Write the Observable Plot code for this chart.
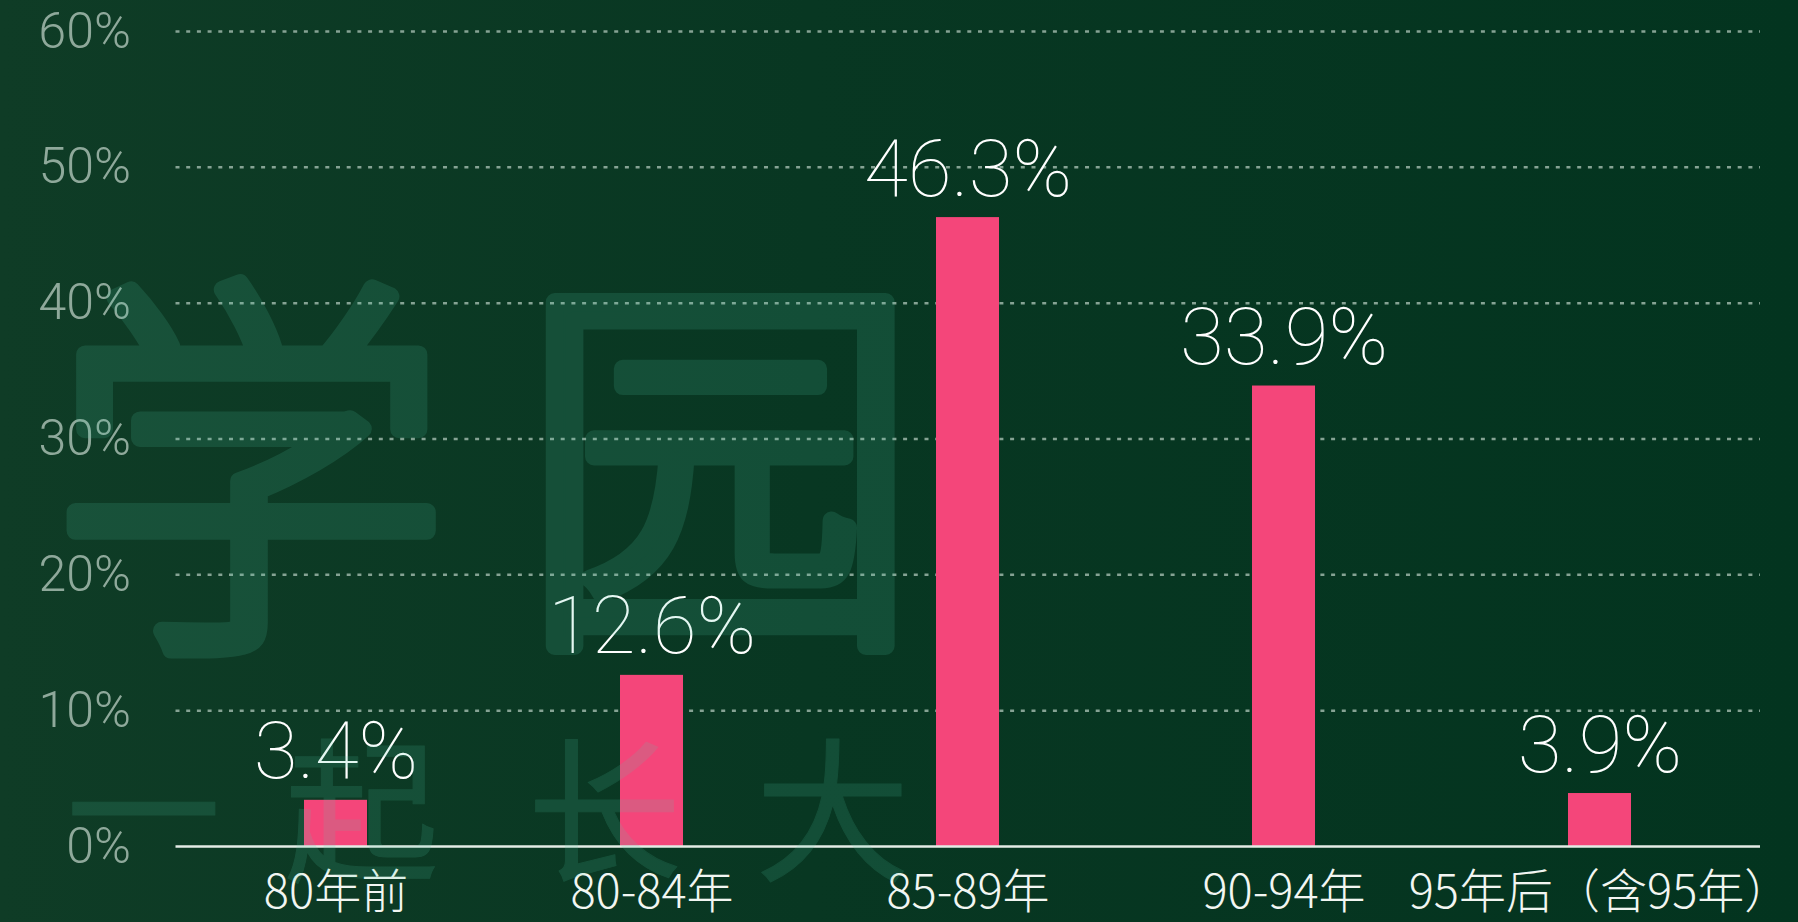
<!DOCTYPE html>
<html><head><meta charset="utf-8">
<script src="https://cdn.jsdelivr.net/npm/d3@7"></script>
<script src="https://cdn.jsdelivr.net/npm/@observablehq/plot@0.6"></script>
<style>
html,body{margin:0;padding:0;width:1798px;height:922px;overflow:hidden;}
body{background:linear-gradient(90deg,#0f3c26 0%,#083722 45%,#03341f 100%);position:relative;}
#chart{position:absolute;left:0;top:0;}
#wm{position:absolute;left:0;top:0;pointer-events:none;}
</style></head><body>
<div id="chart"></div>
<svg id="wm" width="1798" height="922" viewBox="0 0 1798 922">
  <g opacity="0.15" fill="rgb(83,207,173)" stroke="rgb(83,207,173)" stroke-linejoin="round" stroke-linecap="round" font-family="'Noto Sans CJK SC'">
    <text x="50" y="620" font-size="400" font-weight="300" stroke-width="18">学</text>
    <text x="520" y="616" font-size="400" font-weight="300" stroke-width="18">园</text>
    <text x="66" y="869" font-size="155" font-weight="400" stroke-width="1">一</text>
    <text x="284" y="869" font-size="155" font-weight="400" stroke-width="1">起</text>
    <text x="527" y="869" font-size="155" font-weight="400" stroke-width="1">长</text>
    <text x="755" y="869" font-size="155" font-weight="400" stroke-width="1">大</text>
  </g>
</svg>
<script>
const categories = ["80年前", "80-84年", "85-89年", "90-94年", "95年后（含95年）"];
const values = [3.4, 12.6, 46.3, 33.9, 3.9];
const valueLabels = ["3.4%", "12.6%", "46.3%", "33.9%", "3.9%"];
const yTicks = [0, 10, 20, 30, 40, 50, 60];

const data = categories.map((c, i) => ({cat: c, value: values[i], label: valueLabels[i]}));

const chart = Plot.plot({
  width: 1798, height: 922,
  marginLeft: 175.5, marginRight: 38, marginTop: 31, marginBottom: 76,
  style: {background: "transparent", overflow: "visible", fontFamily: "Roboto, 'Noto Sans CJK SC', sans-serif"},
  x: {domain: categories, paddingInner: 0.8, paddingOuter: 0.4, label: null},
  y: {domain: [0, 60], label: null},
  marks: [
    Plot.ruleY(yTicks.filter(d => d > 0), {stroke: "#86a394", strokeWidth: 2.5, strokeDasharray: "4,6.7"}),
    Plot.barY(data, {x: "cat", y: "value", fill: "#f4467a"}),
    Plot.ruleY([0], {stroke: "#e4ece6", strokeWidth: 2.5}),
    Plot.text(data, {x: "cat", y: "value", text: "label", dy: -22, lineAnchor: "bottom", fill: "#ffffff", fontSize: 80, fontWeight: 100, fontFamily: "Roboto"}),
    Plot.axisY(yTicks, {tickSize: 0, tickPadding: 45, tickFormat: d => d + "%", fontSize: 50, color: "#8fa99b", fontWeight: 300, fontFamily: "Roboto", label: null}),
    Plot.axisX(categories, {tickSize: 0, tickPadding: 28, fontSize: 47, color: "#f2f6f2", fontWeight: 300, fontFamily: "'Noto Sans CJK SC'", label: null})
  ]
});
document.getElementById("chart").appendChild(chart);
</script>
</body></html>
